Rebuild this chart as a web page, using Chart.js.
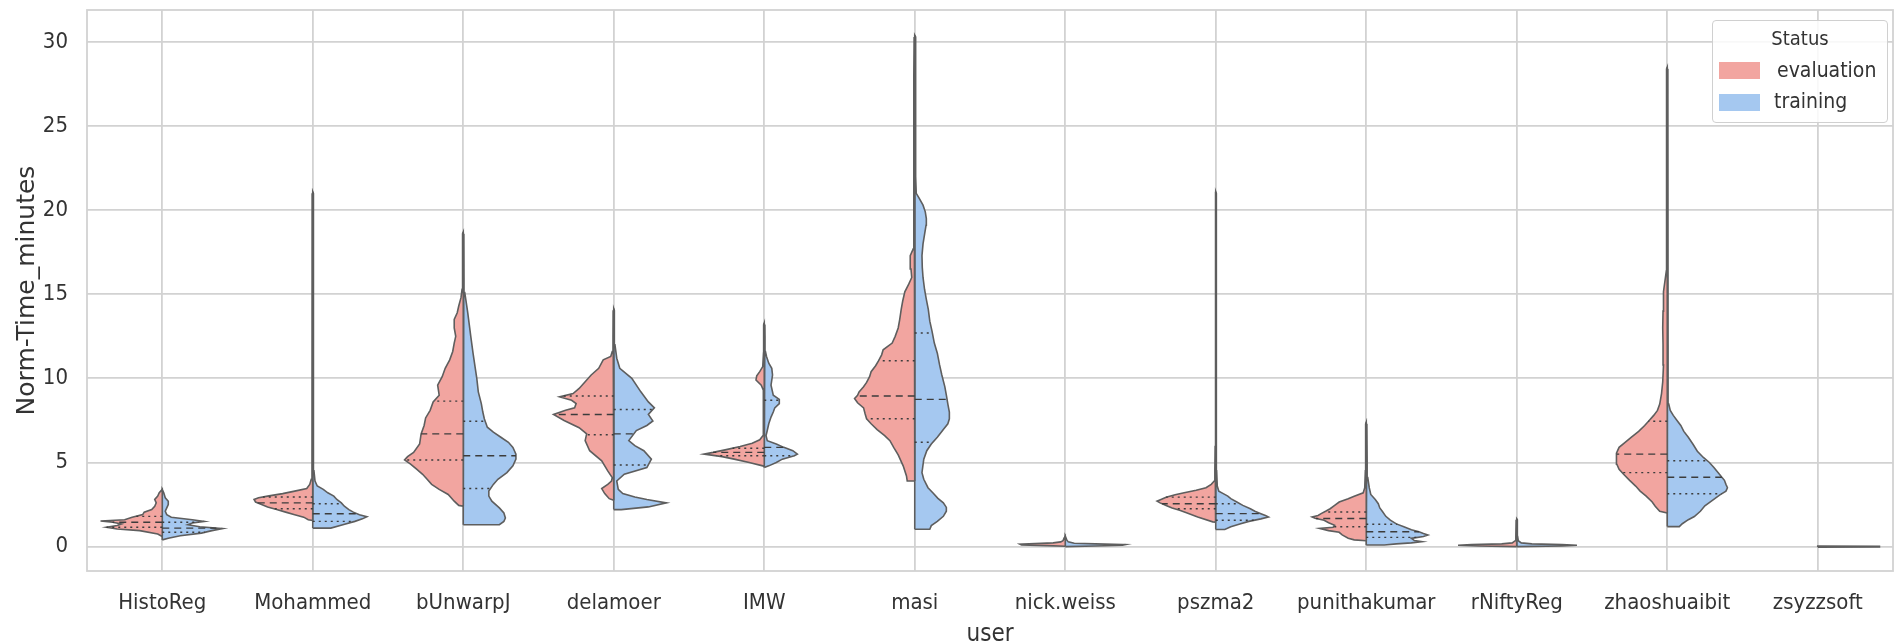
<!DOCTYPE html>
<html>
<head>
<meta charset="utf-8">
<script src="https://cdn.jsdelivr.net/npm/chart.js@4.4.1/dist/chart.umd.min.js"></script>
<style>
  html, body { margin: 0; padding: 0; background: #fff; }
  #wrap { position: relative; width: 1895px; height: 643px; }
  #legend {
    position: absolute; left: 1712px; top: 20px; width: 176px; height: 103px;
    box-sizing: border-box; border: 1.5px solid #d0d0d0; border-radius: 4px;
    background: rgba(255, 255, 255, 0.85);
    font-family: "DejaVu Sans Condensed", "DejaVu Sans", sans-serif; color: #333;
  }
  #legend .title { position: absolute; left: 0; width: 100%; top: 5px; text-align: center; font-size: 20px; }
  #legend .patch { position: absolute; left: 6px; width: 41px; height: 17px; }
  #legend .label { position: absolute; left: 64px; font-size: 21px; line-height: 21px; }
</style>
</head>
<body>
<div id="wrap">
  <canvas id="chart" width="1895" height="643"></canvas>
  <div id="legend">
    <div class="title">Status</div>
    <div class="patch" style="top:41px;background:#f2a5a0"></div>
    <div class="label" style="top:39px">evaluation</div>
    <div class="patch" style="top:73px;background:#a5c8f0"></div>
    <div class="label" style="top:70px;left:61px">training</div>
  </div>
</div>
<script>
// Split violins: Norm-Time_minutes by user, evaluation (left) vs training (right)
// each outline is [value, half-width in category units], bottom to top

const users = ["HistoReg", "Mohammed", "bUnwarpJ", "delamoer", "IMW", "masi",
  "nick.weiss", "pszma2", "punithakumar", "rNiftyReg", "zhaoshuaibit", "zsyzzsoft"]
const yTicks = [0, 5, 10, 15, 20, 25, 30]

const evalHistoReg = [[0.6,0],[0.75,0.03],[0.95,0.15],[1.05,0.3],[1.15,0.37],[1.25,0.3],[1.35,0.27],[1.45,0.33],[1.52,0.41],[1.6,0.25],[1.75,0.2],[1.9,0.13],[2.05,0.12],[2.2,0.07],[2.4,0.05],[2.6,0.04],[2.8,0.05],[3.0,0.03],[3.2,0.02],[3.4,0]]
const trainHistoReg = [[0.4,0],[0.5,0.04],[0.65,0.12],[0.8,0.26],[0.95,0.33],[1.07,0.4],[1.18,0.25],[1.3,0.17],[1.4,0.2],[1.5,0.28],[1.6,0.2],[1.75,0.06],[1.9,0.03],[2.1,0.02],[2.3,0.03],[2.5,0.04],[2.7,0.04],[2.9,0.02],[3.2,0.01],[3.4,0]]

const evalMohammed = [[1.55,0],[1.6,0.03],[1.75,0.06],[1.9,0.12],[2.05,0.18],[2.2,0.24],[2.35,0.3],[2.5,0.34],[2.65,0.38],[2.8,0.39],[2.9,0.36],[3.0,0.3],[3.15,0.2],[3.3,0.12],[3.45,0.04],[3.7,0.02],[4.0,0.01],[5,0.005],[21,0.004],[21.1,0]]
const trainMohammed = [[1.1,0],[1.1,0.12],[1.3,0.2],[1.5,0.28],[1.65,0.33],[1.78,0.36],[1.9,0.31],[2.05,0.27],[2.2,0.24],[2.4,0.21],[2.6,0.19],[2.8,0.16],[3.0,0.14],[3.2,0.1],[3.4,0.07],[3.6,0.03],[3.9,0.015],[4.5,0.008],[6,0.005],[21,0.004],[21.1,0]]

const evalBUnwarpJ = [[2.4,0],[2.45,0.03],[2.7,0.06],[3.1,0.1],[3.4,0.16],[3.7,0.21],[4.0,0.24],[4.3,0.27],[4.6,0.31],[4.9,0.35],[5.15,0.39],[5.35,0.37],[5.6,0.33],[6.1,0.29],[6.7,0.28],[7.2,0.26],[7.65,0.25],[8.1,0.22],[8.6,0.2],[9.0,0.16],[9.6,0.17],[10.1,0.14],[10.6,0.12],[11.1,0.09],[11.6,0.07],[12.1,0.06],[12.5,0.05],[13.0,0.06],[13.5,0.06],[13.9,0.04],[14.3,0.03],[14.8,0.015],[15.3,0.008],[16,0.005],[18.6,0.004],[18.7,0]]
const trainBUnwarpJ = [[1.3,0],[1.3,0.24],[1.5,0.27],[1.7,0.28],[2.0,0.27],[2.3,0.24],[2.7,0.19],[3.0,0.17],[3.3,0.17],[3.7,0.2],[4.0,0.23],[4.4,0.29],[4.8,0.33],[5.2,0.35],[5.5,0.35],[5.9,0.33],[6.2,0.3],[6.5,0.25],[6.8,0.2],[7.1,0.16],[7.6,0.14],[8.0,0.13],[8.5,0.12],[9.2,0.1],[10.0,0.09],[10.6,0.08],[11.5,0.065],[12.5,0.05],[13.2,0.04],[13.9,0.03],[14.5,0.02],[15.1,0.01],[16,0.005],[18.6,0.004],[18.7,0]]

const evalDelamoer = [[2.75,0],[2.85,0.03],[3.15,0.06],[3.45,0.08],[3.7,0.04],[3.9,0.015],[4.1,0.01],[4.5,0.04],[5.1,0.08],[5.7,0.16],[6.3,0.19],[6.7,0.18],[7.07,0.23],[7.5,0.33],[7.86,0.4],[8.1,0.32],[8.25,0.26],[8.5,0.25],[8.7,0.28],[8.9,0.36],[9.1,0.27],[9.4,0.23],[9.8,0.19],[10.2,0.15],[10.6,0.1],[11.1,0.07],[11.3,0.02],[11.6,0.01],[12.5,0.005],[14.05,0.004],[14.15,0]]
const trainDelamoer = [[2.2,0],[2.2,0.05],[2.36,0.23],[2.6,0.35],[2.8,0.22],[2.95,0.14],[3.15,0.06],[3.4,0.03],[3.9,0.02],[4.3,0.07],[4.7,0.22],[5.2,0.25],[5.7,0.2],[6.0,0.14],[6.3,0.1],[6.9,0.15],[7.2,0.22],[7.47,0.26],[7.86,0.23],[8.25,0.27],[8.6,0.23],[9.2,0.18],[10.0,0.12],[10.6,0.04],[11.2,0.02],[12,0.008],[14.05,0.004],[14.15,0]]

const evalIMW = [[4.75,0],[4.8,0.01],[5.0,0.1],[5.2,0.2],[5.35,0.28],[5.5,0.4],[5.6,0.34],[5.75,0.26],[5.95,0.16],[6.15,0.08],[6.35,0.03],[6.6,0.008],[9.3,0.006],[9.6,0.02],[9.9,0.055],[10.15,0.05],[10.4,0.03],[10.7,0.01],[11.5,0.005],[13.2,0.004],[13.3,0]]
const trainIMW = [[4.7,0],[4.8,0.03],[5.0,0.08],[5.2,0.12],[5.4,0.2],[5.5,0.22],[5.7,0.19],[5.9,0.13],[6.1,0.08],[6.3,0.02],[6.6,0.012],[6.9,0.02],[7.3,0.03],[7.7,0.045],[8.0,0.06],[8.25,0.07],[8.5,0.1],[8.75,0.1],[9.0,0.06],[9.6,0.045],[10.2,0.055],[10.6,0.05],[10.9,0.03],[11.3,0.015],[11.6,0.008],[12.5,0.005],[13.2,0.004],[13.3,0]]

const evalMasi = [[3.9,0],[3.9,0.05],[4.2,0.055],[4.8,0.077],[5.45,0.11],[5.9,0.14],[6.3,0.165],[6.6,0.2],[6.96,0.25],[7.3,0.29],[7.6,0.32],[7.9,0.33],[8.25,0.34],[8.55,0.38],[8.8,0.4],[9.0,0.38],[9.2,0.37],[9.5,0.34],[9.76,0.32],[10.1,0.3],[10.4,0.29],[10.75,0.26],[11.05,0.24],[11.4,0.22],[11.7,0.21],[12.1,0.15],[12.5,0.13],[13.0,0.11],[13.5,0.1],[14.1,0.09],[14.6,0.08],[15.15,0.066],[15.6,0.04],[16.0,0.02],[16.5,0.025],[17.0,0.03],[17.3,0.03],[17.7,0.01],[18.5,0.006],[22,0.005],[27,0.006],[28,0.008],[30.3,0.004],[30.4,0]]
const trainMasi = [[1.03,0],[1.03,0.1],[1.25,0.11],[1.5,0.15],[1.8,0.19],[2.1,0.21],[2.33,0.21],[2.6,0.19],[2.87,0.154],[3.2,0.12],[3.5,0.088],[4.0,0.06],[4.4,0.048],[5.2,0.06],[5.7,0.08],[6.1,0.11],[6.5,0.15],[6.96,0.19],[7.3,0.22],[7.6,0.23],[8.0,0.23],[8.47,0.22],[9.0,0.21],[9.5,0.2],[10.2,0.18],[10.8,0.165],[11.5,0.15],[12.1,0.13],[12.8,0.115],[13.4,0.1],[14.1,0.09],[14.7,0.077],[15.3,0.065],[16.0,0.055],[16.6,0.05],[17.3,0.048],[18.0,0.055],[18.6,0.066],[19.1,0.075],[19.5,0.077],[19.9,0.07],[20.3,0.055],[20.7,0.03],[21.0,0.01],[22,0.006],[27,0.006],[28,0.008],[30.3,0.004],[30.4,0]]

const evalNickWeiss = [[0.02,0],[0.06,0.12],[0.1,0.29],[0.14,0.3],[0.18,0.2],[0.22,0.08],[0.28,0.03],[0.35,0.015],[0.5,0.008],[0.62,0]]
const trainNickWeiss = [[0.0,0],[0.04,0.2],[0.08,0.38],[0.12,0.4],[0.16,0.2],[0.2,0.06],[0.28,0.02],[0.4,0.01],[0.62,0]]

const evalPszma2 = [[1.45,0],[1.47,0.02],[1.76,0.12],[2.0,0.19],[2.16,0.24],[2.3,0.29],[2.45,0.33],[2.6,0.37],[2.7,0.39],[2.82,0.36],[2.94,0.33],[3.08,0.27],[3.2,0.21],[3.35,0.13],[3.5,0.065],[3.7,0.03],[3.9,0.01],[4.5,0.006],[6,0.004],[21,0.004],[21.1,0]]
const trainPszma2 = [[1.02,0],[1.02,0.06],[1.18,0.1],[1.35,0.16],[1.5,0.22],[1.65,0.3],[1.76,0.35],[1.85,0.33],[1.96,0.3],[2.1,0.26],[2.25,0.23],[2.45,0.18],[2.65,0.14],[2.85,0.1],[3.0,0.08],[3.15,0.05],[3.3,0.02],[3.6,0.01],[4.5,0.006],[6,0.004],[21,0.004],[21.1,0]]

const evalPunithakumar = [[0.35,0],[0.4,0.08],[0.5,0.12],[0.7,0.16],[0.85,0.18],[0.95,0.25],[1.08,0.31],[1.15,0.22],[1.27,0.21],[1.42,0.25],[1.57,0.28],[1.68,0.34],[1.76,0.36],[1.85,0.32],[1.96,0.3],[2.1,0.27],[2.25,0.24],[2.45,0.21],[2.65,0.18],[2.85,0.12],[3.0,0.08],[3.2,0.02],[3.5,0.01],[4.5,0.006],[7.3,0.004],[7.4,0]]
const trainPunithakumar = [[0.1,0],[0.1,0.12],[0.16,0.2],[0.22,0.3],[0.29,0.37],[0.36,0.32],[0.49,0.3],[0.6,0.38],[0.69,0.41],[0.78,0.38],[0.88,0.35],[1.0,0.3],[1.18,0.25],[1.35,0.2],[1.57,0.16],[1.8,0.13],[2.06,0.11],[2.3,0.09],[2.55,0.08],[2.8,0.06],[3.1,0.03],[3.5,0.02],[4.1,0.01],[5,0.006],[7.3,0.004],[7.4,0]]

const evalRNiftyReg = [[0.0,0],[0.04,0.25],[0.08,0.39],[0.12,0.3],[0.16,0.1],[0.22,0.03],[0.35,0.01],[0.6,0.006],[1.6,0.004],[1.65,0]]
const trainRNiftyReg = [[0.0,0],[0.04,0.3],[0.08,0.4],[0.12,0.3],[0.16,0.1],[0.22,0.03],[0.35,0.01],[0.6,0.006],[1.6,0.004],[1.65,0]]

const evalZhaoshuaibit = [[2.0,0],[2.1,0.05],[2.4,0.08],[2.65,0.1],[3.0,0.14],[3.3,0.18],[3.6,0.21],[3.94,0.25],[4.3,0.29],[4.6,0.32],[4.9,0.335],[5.2,0.34],[5.55,0.335],[5.9,0.32],[6.2,0.28],[6.5,0.24],[6.85,0.19],[7.2,0.15],[7.5,0.12],[7.8,0.09],[8.1,0.065],[8.47,0.05],[9.1,0.038],[9.8,0.03],[10.8,0.025],[12,0.028],[13.0,0.03],[14,0.028],[15.15,0.025],[16.0,0.012],[16.4,0.006],[18,0.005],[28.4,0.004],[28.5,0]]
const trainZhaoshuaibit = [[1.19,0],[1.19,0.08],[1.36,0.1],[1.6,0.14],[1.79,0.18],[2.1,0.22],[2.43,0.25],[2.75,0.3],[3.08,0.35],[3.3,0.39],[3.5,0.4],[3.7,0.39],[3.94,0.38],[4.15,0.36],[4.37,0.34],[4.7,0.31],[5.0,0.28],[5.3,0.24],[5.67,0.2],[6.1,0.17],[6.5,0.14],[6.85,0.11],[7.2,0.09],[7.5,0.065],[7.8,0.04],[8.1,0.02],[8.47,0.01],[9,0.006],[12,0.005],[28.4,0.004],[28.5,0]]

const evalZsyzzsoft = []
const trainZsyzzsoft = [[-0.03,0],[-0.02,0.41],[0.02,0.41],[0.03,0]]

const evalShapes = [evalHistoReg, evalMohammed, evalBUnwarpJ, evalDelamoer, evalIMW, evalMasi,
  evalNickWeiss, evalPszma2, evalPunithakumar, evalRNiftyReg, evalZhaoshuaibit, evalZsyzzsoft]
const trainShapes = [trainHistoReg, trainMohammed, trainBUnwarpJ, trainDelamoer, trainIMW, trainMasi,
  trainNickWeiss, trainPszma2, trainPunithakumar, trainRNiftyReg, trainZhaoshuaibit, trainZsyzzsoft]

// quartiles [q1, median, q3]; null where the violin is too flat to show them
const evalQuartiles = [[1.15,1.45,1.8],[2.25,2.6,2.95],[5.15,6.7,8.65],[6.65,7.85,8.95],[5.4,5.6,5.85],[7.6,8.95,11.05],
  null,[2.25,2.55,2.94],[1.18,1.67,2.06],null,[4.4,5.5,7.45],null]
const trainQuartiles = [[0.85,1.1,1.45],[1.5,1.95,2.55],[3.45,5.4,7.45],[4.85,6.7,8.15],[5.4,5.9,8.7],[6.2,8.75,12.7],
  null,[1.57,1.96,2.55],[0.55,0.88,1.33],null,[3.14,4.12,5.1],null]

const pink = "#f2a5a0"
const blue = "#a5c8f0"
const edge = "#5e5e5e"
const gridColor = "#d2d2d2"
const font = "'DejaVu Sans', sans-serif"
const narrow = "'DejaVu Sans Condensed', 'DejaVu Sans', sans-serif"

// closed half-violin polygon around the category center
function outline(shape, center, side) {
  const pts = [{ x: center, y: shape[0][0] }]
  shape.forEach(([v, w]) => pts.push({ x: center + side * w, y: v }))
  pts.push({ x: center, y: shape[shape.length - 1][0] })
  pts.push({ x: center, y: shape[0][0] })
  return pts
}

// half-width of the outline at value v
function widthAt(shape, v) {
  for (let k = 1; k < shape.length; k++) {
    const [v0, w0] = shape[k - 1]
    const [v1, w1] = shape[k]
    if (v >= v0 && v <= v1) return v1 === v0 ? w1 : w0 + (w1 - w0) * (v - v0) / (v1 - v0)
  }
  return 0
}

const datasets = []
function addHalf(shape, quarts, center, side, color) {
  if (!shape.length) return
  datasets.push({
    data: outline(shape, center, side),
    borderColor: edge, borderWidth: 1.6, backgroundColor: color,
    fill: "shape", pointRadius: 0, order: 2
  })
  if (!quarts) return
  quarts.forEach((q, k) => {
    datasets.push({
      data: [{ x: center, y: q }, { x: center + side * widthAt(shape, q), y: q }],
      borderColor: "#3c3c3c", borderWidth: 1.4,
      borderDash: k === 1 ? [7, 5] : [2, 4],
      fill: false, pointRadius: 0, order: 1
    })
  })
}

users.forEach((u, i) => {
  addHalf(evalShapes[i], evalQuartiles[i], i, -1, pink)
  addHalf(trainShapes[i], trainQuartiles[i], i, 1, blue)
})

const frame = {
  id: "frame",
  beforeDatasetsDraw(chart) {
    const { ctx, chartArea: a } = chart
    ctx.save()
    ctx.strokeStyle = gridColor
    ctx.lineWidth = 1.8
    ctx.strokeRect(a.left, a.top, a.right - a.left, a.bottom - a.top)
    ctx.restore()
  }
}

new Chart(document.getElementById("chart"), {
  type: "line",
  data: { datasets },
  plugins: [frame],
  options: {
    responsive: false,
    animation: false,
    layout: { padding: { top: 10, right: 2, left: 0, bottom: 0 } },
    plugins: { legend: { display: false }, tooltip: { enabled: false } },
    scales: {
      x: {
        type: "linear",
        min: -0.5,
        max: users.length - 0.5,
        afterBuildTicks: axis => { axis.ticks = users.map((u, i) => ({ value: i })) },
        afterFit: scale => {
          scale.height = 72
          scale.paddingLeft = 0
          scale.paddingRight = 0
        },
        grid: { color: gridColor, lineWidth: 1.8, drawTicks: false },
        border: { display: false },
        ticks: {
          autoSkip: false, maxRotation: 0, padding: 19, color: "#333",
          font: { family: narrow, size: 22 },
          callback: v => users[v]
        },
        title: {
          display: true, text: "user", color: "#333",
          font: { family: narrow, size: 24, lineHeight: 0.7 },
          padding: { top: 0, bottom: 0 }
        }
      },
      y: {
        min: -1.45,
        max: 31.9,
        afterBuildTicks: axis => { axis.ticks = yTicks.map(v => ({ value: v })) },
        afterFit: scale => {
          scale.width = 87
          scale.paddingTop = 0
          scale.paddingBottom = 0
        },
        grid: { color: gridColor, lineWidth: 1.8, drawTicks: false },
        border: { display: false },
        ticks: { padding: 19, color: "#333", font: { family: narrow, size: 22 } },
        title: {
          display: true, text: "Norm-Time_minutes", color: "#333",
          font: { family: font, size: 25 },
          padding: { top: 12, bottom: 0 }
        }
      }
    }
  }
})
</script>
</body>
</html>
